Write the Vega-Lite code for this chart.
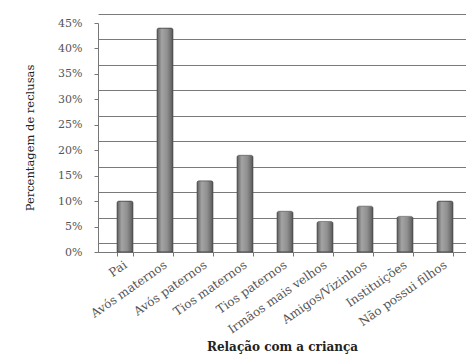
{
  "$schema": "https://vega.github.io/schema/vega-lite/v6.json",
  "width": 368,
  "height": 229,
  "autosize": {"type": "none"},
  "padding": {"left": 98, "top": 23, "right": 0, "bottom": 103},
  "background": "white",
  "config": {"view": {"stroke": null}, "font": "DejaVu Serif"},
  "data": {
    "values": [
      {"rel": "Pai", "pct": 10},
      {"rel": "Avós maternos", "pct": 44},
      {"rel": "Avós paternos", "pct": 14},
      {"rel": "Tios maternos", "pct": 19},
      {"rel": "Tios paternos", "pct": 8},
      {"rel": "Irmãos mais velhos", "pct": 6},
      {"rel": "Amigos/Vizinhos", "pct": 9},
      {"rel": "Instituições", "pct": 7},
      {"rel": "Não possui filhos", "pct": 10}
    ]
  },
  "layer": [
    {
      "mark": {"type": "bar", "opacity": 0},
      "encoding": {
        "x": {"field": "rel", "type": "nominal", "sort": null,
              "scale": {"paddingInner": 0.6, "paddingOuter": 0.4, "align": 0.594}},
        "y": {"field": "pct", "type": "quantitative",
              "scale": {"domain": [0, 45], "range": [220, -9]},
              "axis": {"orient": "right", "grid": true, "labels": false, "ticks": false, "domain": false, "title": null,
                       "values": [0, 5, 10, 15, 20, 25, 30, 35, 40, 45], "gridColor": "#7a7a7a", "gridWidth": 1, "gridOpacity": 1}}
      }
    },
    {
      "mark": {
        "type": "bar",
        "color": {
          "gradient": "linear", "x1": 0, "x2": 1, "y1": 0, "y2": 0,
          "stops": [
            {"offset": 0, "color": "#5e5e5e"},
            {"offset": 0.3, "color": "#a4a4a4"},
            {"offset": 0.65, "color": "#8e8e8e"},
            {"offset": 1, "color": "#585858"}
          ]
        },
        "stroke": "#4a4a4a",
        "strokeWidth": 0.6,
        "cornerRadiusTopLeft": 2,
        "cornerRadiusTopRight": 2
      },
      "encoding": {
        "x": {"field": "rel", "type": "nominal", "sort": null,
              "axis": {"title": "Relação com a criança", "titleFontWeight": "bold", "titleFontSize": 12, "titleColor": "#222",
                       "labelAngle": -35, "labelAlign": "right", "labelBaseline": "middle", "labelFontSize": 12,
                       "labelColor": "#555", "labelPadding": 7, "tickBand": "extent", "tickSize": 4,
                       "tickColor": "#777", "domainColor": "#777", "titlePadding": 6}},
        "y": {"field": "pct", "type": "quantitative",
              "scale": {"domain": [0, 45]},
              "axis": {"values": [0, 5, 10, 15, 20, 25, 30, 35, 40, 45], "labelExpr": "datum.value + '%'", "grid": false,
                       "labelFontSize": 11, "labelColor": "#555", "tickSize": 4, "tickColor": "#777", "domainColor": "#777",
                       "labelPadding": 12, "title": "Percentagem de reclusas", "titleFontWeight": "normal", "titleFontSize": 11.5,
                       "titleColor": "#222", "titlePadding": 22}}
      }
    }
  ],
  "resolve": {"scale": {"y": "independent"}, "axis": {"y": "independent"}}
}
